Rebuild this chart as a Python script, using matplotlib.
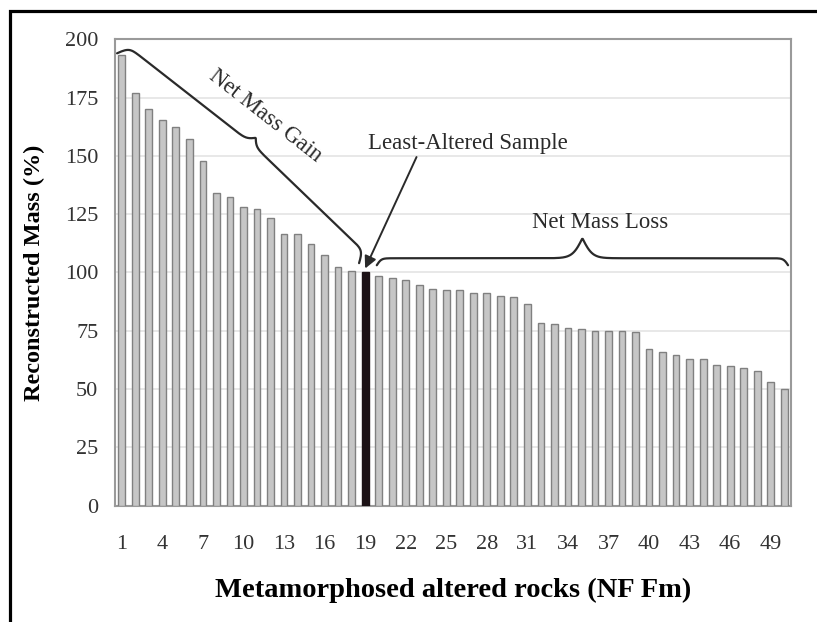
import numpy as np
import matplotlib
matplotlib.use("Agg")
import matplotlib.pyplot as plt
from matplotlib.patches import Rectangle

plt.rcParams['font.family'] = ['Liberation Serif', 'DejaVu Serif']

# reconstructed mass (%) for samples 1..50
samples = list(range(1, 51))
mass = [193.1, 177.0, 170.0, 165.3, 162.6, 157.4, 147.7, 133.9, 132.4, 128.1,
        127.1, 123.3, 116.4, 116.4, 112.4, 107.7, 102.4, 100.7, 100.0, 98.4,
        97.6, 96.7, 94.6, 93.1, 92.4, 92.4, 91.1, 91.1, 89.7, 89.3,
        86.3, 78.4, 77.8, 76.3, 75.7, 75.0, 75.0, 75.0, 74.4, 67.1,
        65.7, 64.8, 62.7, 62.7, 60.1, 59.7, 58.9, 57.8, 53.1, 50.1]
least_altered = 19
xticks = list(range(1, 50, 3))
yticks = list(range(0, 201, 25))


def brace(ax, p0, p1, h1, h2, k, b1, b2):
    # curly brace drawn in pixel space between two data points
    P0 = ax.transData.transform(p0)
    P1 = ax.transData.transform(p1)
    L = np.hypot(*(P1 - P0))
    d = (P1 - P0) / L
    n = np.array([-d[1], d[0]])
    t = np.linspace(0, L, 600)
    u = np.minimum(t, L - t)
    sig = lambda z: 1 / (1 + np.exp(-z))
    off = h1 * (2 * sig(b1 * u) - 1) + k * u + 2 * h2 * sig(b2 * (u - L / 2))
    pts = P0 + np.outer(t, d) + np.outer(off, n)
    pts = ax.transData.inverted().transform(pts)
    ax.plot(pts[:, 0], pts[:, 1], color='#2a2a2a', lw=1.6, clip_on=False,
            solid_capstyle='round', zorder=5)


fig = plt.figure(figsize=(8.17, 6.22), dpi=100)
fig.patch.set_facecolor('white')
# outer frame (only left and top visible in the original crop)
fig.add_artist(Rectangle((10 / 817, -0.1), 1.2, 1 - 11 / 622 + 0.1,
                         transform=fig.transFigure, fill=False,
                         edgecolor='black', lw=2.3))

ax = fig.add_axes([0.1408, 0.1871, 0.8274, 0.7497])

colors = ['#1c1216' if s == least_altered else '#c6c6c6' for s in samples]
edges = ['#1c1216' if s == least_altered else '#808080' for s in samples]
ax.bar(samples, mass, width=0.5, color=colors, edgecolor=edges, linewidth=1.0,
       zorder=3)

ax.set_xlim(0.5, 50.5)
ax.set_ylim(0, 200)
ax.set_yticks(yticks)
ax.set_xticks(xticks)
ax.tick_params(axis='both', length=0, labelsize=16, colors='#333333')
ax.tick_params(axis='y', pad=12)
ax.tick_params(axis='x', pad=21)
ax.grid(axis='y', color='#e4e4e4', lw=1.2, zorder=0)
for sp in ax.spines.values():
    sp.set_color('#9a9a9a')
    sp.set_linewidth(1.5)

ax.set_ylabel('Reconstructed Mass (%)', fontsize=17.5, fontweight='bold')
ax.set_xlabel('Metamorphosed altered rocks (NF Fm)', fontsize=20.5,
              fontweight='bold')
ax.yaxis.set_label_coords(-0.1036, 0.5)
ax.xaxis.set_label_coords(0.5, -0.155)

# annotations
brace(ax, (0.65, 194), (18.55, 104), h1=12, h2=7, k=0.05, b1=0.35, b2=0.3)
brace(ax, (19.86, 103.1), (50.28, 103.1), h1=7, h2=20, k=0, b1=0.45, b2=0.2)

ax.text(11.6, 167.0, 'Net Mass Gain', fontsize=16.4, rotation=-38,
        ha='center', va='center', color='#2a2a2a', rotation_mode='anchor')
ax.text(36.4, 121.5, 'Net Mass Loss', fontsize=16.4, ha='center',
        va='center', color='#2a2a2a')
ax.text(26.6, 155.5, 'Least-Altered Sample', fontsize=16.4, ha='center',
        va='center', color='#2a2a2a')
ax.annotate('', xy=(19.0, 101.7), xytext=(22.8, 149.5),
            arrowprops=dict(arrowstyle='-|>', color='#2a2a2a', lw=1.4,
                            mutation_scale=18, shrinkA=0, shrinkB=0))

fig.savefig('out.png', dpi=100)
